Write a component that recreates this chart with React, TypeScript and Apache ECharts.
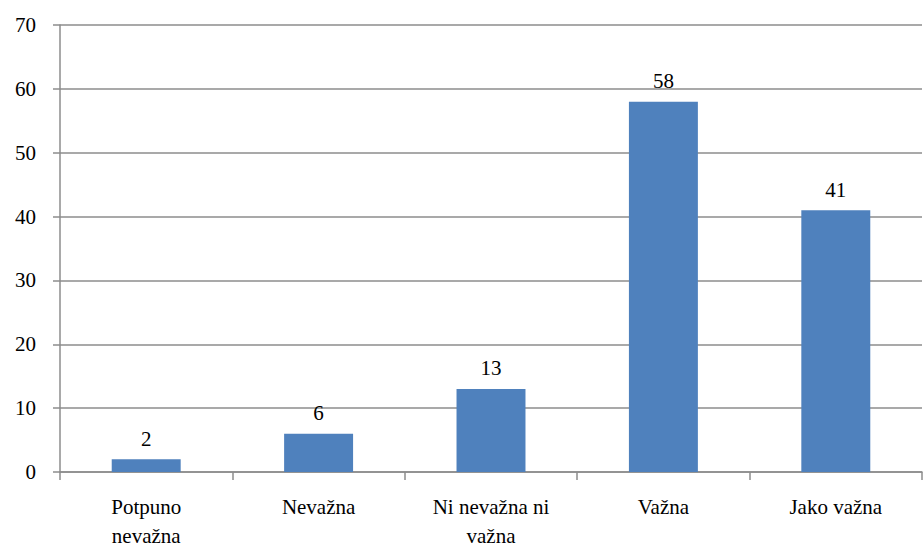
import React, { useEffect, useRef } from "react";
import * as echarts from "echarts";

const categories = ["Potpuno\nnevažna", "Nevažna", "Ni nevažna ni\nvažna", "Važna", "Jako važna"];
const values = [2, 6, 13, 58, 41];
const yMin = 0;
const yMax = 70;
const yInterval = 10;

export default function App() {
  const ref = useRef<HTMLDivElement>(null);
  useEffect(() => {
    if (!ref.current) return;
    const chart = echarts.init(ref.current, null, { renderer: "svg" });
    const font = "'Liberation Serif', 'DejaVu Serif', 'Times New Roman', Times, serif";
    chart.setOption({
      animation: false,
      backgroundColor: "#ffffff",
      textStyle: { fontFamily: font },
      grid: { left: 60, right: 1, top: 25, bottom: 72, containLabel: false },
      xAxis: {
        type: "category",
        data: categories,
        boundaryGap: true,
        axisLine: { show: true, lineStyle: { color: "#8c8c8c", width: 1.5 } },
        axisTick: { show: true, length: 8, alignWithLabel: false, lineStyle: { color: "#8c8c8c", width: 1.5 } },
        axisLabel: {
          interval: 0,
          margin: 20,
          color: "#000",
          fontFamily: font,
          fontSize: 21,
          lineHeight: 29,
        },
      },
      yAxis: {
        type: "value",
        min: yMin,
        max: yMax,
        interval: yInterval,
        axisLine: { show: true, lineStyle: { color: "#8c8c8c", width: 1.5 } },
        axisTick: { show: true, length: 7, lineStyle: { color: "#8c8c8c", width: 1.5 } },
        splitLine: { show: true, lineStyle: { color: "#8c8c8c", width: 1.5 } },
        axisLabel: {
          margin: 24,
          color: "#000",
          fontFamily: font,
          fontSize: 21,
        },
      },
      series: [
        {
          type: "bar",
          data: values,
          barWidth: "40%",
          itemStyle: { color: "#4F81BD" },
          label: {
            show: true,
            position: "top",
            distance: 10,
            color: "#000",
            fontFamily: font,
            fontSize: 21,
          },
        },
      ],
    });
    return () => chart.dispose();
  }, []);
  return (
    <div
      ref={ref}
      style={{ position: "fixed", left: 0, top: 0, width: 923, height: 550, background: "#fff" }}
    />
  );
}
